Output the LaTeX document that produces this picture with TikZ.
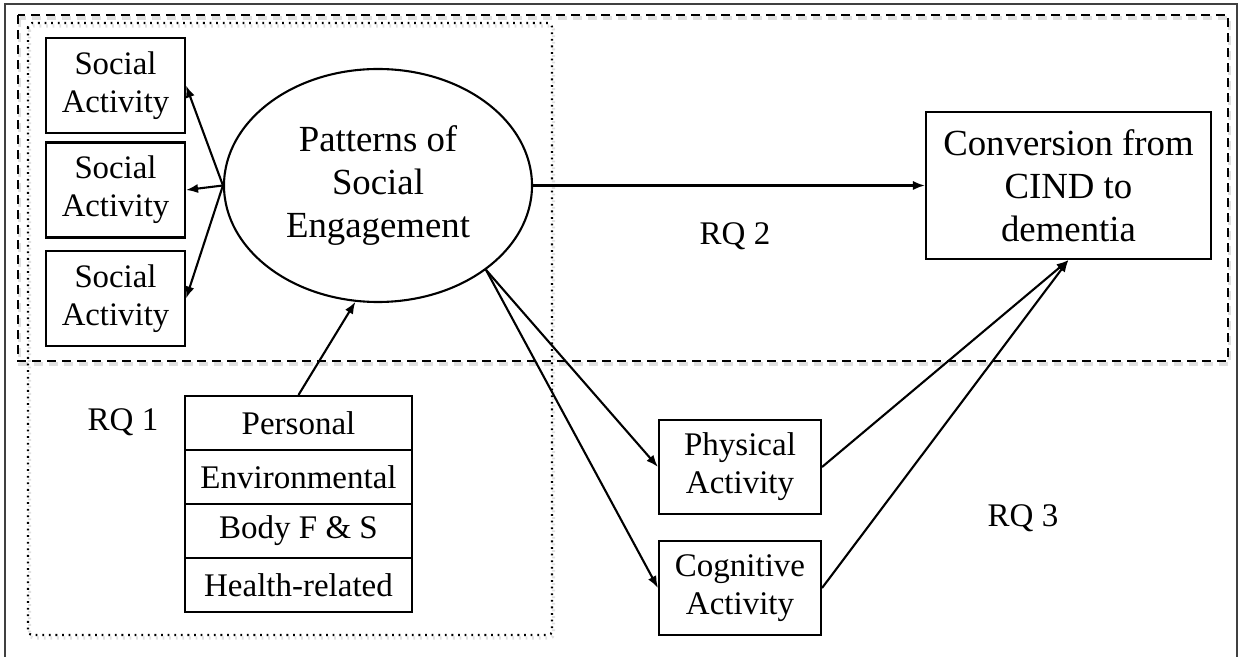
\documentclass[tikz,border=0pt]{standalone}
\usepackage{fontspec}
\setmainfont{Liberation Serif}
\usetikzlibrary{arrows.meta, shapes.geometric, positioning}

\begin{document}
\begin{tikzpicture}[x=0.5pt, y=-0.5pt, line width=1.05pt,
    actbox/.style={draw, inner sep=0pt, align=center, minimum width=69.5pt, minimum height=47.5pt, font=\fontsize{16.4}{19}\selectfont},
    midbox/.style={draw, inner sep=0pt, align=center, minimum width=81pt, minimum height=47pt, font=\fontsize{16.5}{19}\selectfont},
    factor/.style={draw, inner sep=0pt, minimum width=113.5pt, minimum height=27pt, font=\fontsize{16.5}{19}\selectfont},
    rqlabel/.style={inner sep=0pt, font=\fontsize{16.5}{19}\selectfont},
    bigtext/.style={inner sep=0pt, align=center, font=\fontsize{18.4}{21.5}\selectfont},
    shade line/.style={black!12, line width=1.6pt},
    arr/.style={-{Latex[length=6pt, width=4.6pt]}}]
        \useasboundingbox (0,0) rectangle (1239,657);

        % Frames
        \draw[black!75, line width=1pt] (5,657) -- (5,4) -- (1237,4) -- (1237,657);
        \draw[shade line, dash pattern=on 4.5pt off 3pt] (19.5,18) rectangle (1229.5,364);
        \draw[shade line, dash pattern=on 0.9pt off 2.4pt, rounded corners=2pt] (29.5,26) rectangle (553.5,638);
        \draw[dash pattern=on 4.5pt off 3pt] (18,15) rectangle (1228,361);
        \draw[dash pattern=on 0.9pt off 2.4pt, rounded corners=2pt] (28,23) rectangle (552,635);

        % Social engagement
        \node[bigtext, draw, ellipse, minimum width=154pt, minimum height=116.5pt] (pse) at (378,185.5) {Patterns of\\Social\\Engagement};
        \foreach \i/\y in {1/85.5, 2/190, 3/298.5} {
            \node[actbox] (sa\i) at (115.5,\y) {Social\\Activity};
            \draw[arr] (pse.west) -- (sa\i.east);
        }

        % Factors
        \foreach \i/\lbl in {1/Personal, 2/Environmental, 3/Body F \& S, 4/Health-related}
            \node[factor] (f\i) at (298.5, 369+54*\i) {\lbl};
        \draw[arr] (f1.north) -- (pse.259);

        % Outcome
        \node[bigtext, draw, minimum width=142.5pt, minimum height=73.5pt] (conv) at (1068.5,185.5) {Conversion from\\CIND to\\dementia};
        \draw[arr] (pse.east) -- (conv.west);

        % Mediators
        \node[midbox] (phys) at (740,467) {Physical\\Activity};
        \node[midbox] (cog) at (740,588) {Cognitive\\Activity};
        \draw[arr] (pse.-38) -- (phys.west);
        \draw[arr] (pse.-38) -- (cog.west);
        \draw[arr] (phys.east) -- (conv.south);
        \draw[arr] (cog.east) -- (conv.south);

        % Labels
        \node[rqlabel] (rq1) at (123,422) {RQ 1};
        \node[rqlabel] (rq2) at (735,236) {RQ 2};
        \node[rqlabel] (rq3) at (1023,518) {RQ 3};
    \end{tikzpicture}
\end{document}
